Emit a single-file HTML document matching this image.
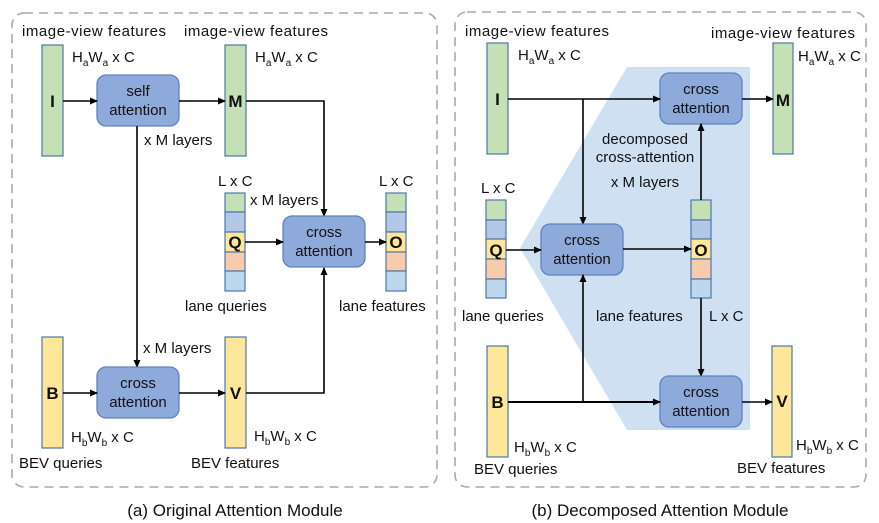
<!DOCTYPE html>
<html><head><meta charset="utf-8"><style>
html,body{margin:0;padding:0;background:#fff}
svg{display:block}
text{font-family:"Liberation Sans","DejaVu Sans",sans-serif;font-size:15px;fill:#111}
.b{font-weight:bold;font-size:17px}
.bx{fill:#8eaadb;stroke:#5f83c0;stroke-width:1.3}
.g{fill:#c5e0b4;stroke:#4a79a8;stroke-width:1.2}
.y{fill:#ffe699;stroke:#4a79a8;stroke-width:1.2}
.s1{fill:#b4c7e7;stroke:#4a79a8;stroke-width:1.2}
.s2{fill:#f8cbad;stroke:#4a79a8;stroke-width:1.2}
.s3{fill:#bdd7ee;stroke:#4a79a8;stroke-width:1.2}
.l{stroke:#000;stroke-width:1.6;fill:none}
</style></head><body>
<svg width="879" height="523" viewBox="0 0 879 523" xmlns="http://www.w3.org/2000/svg">
<defs><marker id="a" markerWidth="8" markerHeight="8" refX="7" refY="4" orient="auto" markerUnits="userSpaceOnUse"><path d="M0,0.5 L8,4 L0,7.5 Z" fill="#000"/></marker></defs>
<rect x="12" y="13" width="425" height="474" rx="12" fill="none" stroke="#aaa" stroke-width="1.6" stroke-dasharray="9,6"/>
<rect x="455" y="12" width="411" height="475" rx="12" fill="none" stroke="#aaa" stroke-width="1.6" stroke-dasharray="9,6"/>

<!-- LEFT -->
<text x="22" y="36" textLength="144">image-view features</text>
<text x="184" y="36" textLength="144">image-view features</text>
<text x="72" y="62">H<tspan font-size="10" dy="4">a</tspan><tspan dy="-4">W</tspan><tspan font-size="10" dy="4">a</tspan><tspan dy="-4"> x C</tspan></text>
<text x="255" y="62">H<tspan font-size="10" dy="4">a</tspan><tspan dy="-4">W</tspan><tspan font-size="10" dy="4">a</tspan><tspan dy="-4"> x C</tspan></text>
<rect class="g" x="42" y="45" width="21" height="111"/>
<text class="b" x="52.5" y="107" text-anchor="middle">I</text>
<rect class="g" x="225" y="45" width="21" height="111"/>
<text class="b" x="235.5" y="107" text-anchor="middle">M</text>
<rect class="bx" x="97" y="75" width="82" height="51" rx="9"/>
<text x="138" y="96" text-anchor="middle">self</text>
<text x="138" y="115" text-anchor="middle">attention</text>
<line class="l" x1="63" y1="101" x2="97" y2="101" marker-end="url(#a)"/>
<line class="l" x1="179" y1="101" x2="225" y2="101" marker-end="url(#a)"/>
<polyline class="l" points="246,101 324,101 324,216" marker-end="url(#a)"/>
<text x="144" y="145">x M layers</text>
<line class="l" x1="137" y1="126" x2="137" y2="367" marker-end="url(#a)"/>
<text x="218" y="186">L x C</text>
<text x="250" y="205">x M layers</text>
<text x="379" y="186">L x C</text>
<rect class="g" x="225" y="193" width="20" height="19"/>
<rect class="s1" x="225" y="212" width="20" height="20"/>
<rect class="y" x="225" y="232" width="20" height="20"/>
<rect class="s2" x="225" y="252" width="20" height="19"/>
<rect class="s3" x="225" y="271" width="20" height="20"/>
<text class="b" x="235" y="248" text-anchor="middle">Q</text>
<rect class="g" x="386" y="193" width="20" height="19"/>
<rect class="s1" x="386" y="212" width="20" height="20"/>
<rect class="y" x="386" y="232" width="20" height="20"/>
<rect class="s2" x="386" y="252" width="20" height="19"/>
<rect class="s3" x="386" y="271" width="20" height="20"/>
<text class="b" x="396" y="248" text-anchor="middle">O</text>
<rect class="bx" x="283" y="216" width="82" height="51" rx="9"/>
<text x="324" y="237" text-anchor="middle">cross</text>
<text x="324" y="256" text-anchor="middle">attention</text>
<line class="l" x1="245" y1="242" x2="283" y2="242" marker-end="url(#a)"/>
<line class="l" x1="365" y1="242" x2="386" y2="242" marker-end="url(#a)"/>
<text x="185" y="311">lane queries</text>
<text x="339" y="311">lane features</text>
<text x="143" y="353">x M layers</text>
<rect class="y" x="42" y="337" width="21" height="111"/>
<text class="b" x="52.5" y="399" text-anchor="middle">B</text>
<rect class="y" x="225" y="337" width="21" height="111"/>
<text class="b" x="235.5" y="399" text-anchor="middle">V</text>
<rect class="bx" x="97" y="367" width="82" height="51" rx="9"/>
<text x="138" y="388" text-anchor="middle">cross</text>
<text x="138" y="407" text-anchor="middle">attention</text>
<line class="l" x1="63" y1="393" x2="97" y2="393" marker-end="url(#a)"/>
<line class="l" x1="179" y1="393" x2="225" y2="393" marker-end="url(#a)"/>
<polyline class="l" points="246,393 324,393 324,268" marker-end="url(#a)"/>
<text x="71" y="442">H<tspan font-size="10" dy="4">b</tspan><tspan dy="-4">W</tspan><tspan font-size="10" dy="4">b</tspan><tspan dy="-4"> x C</tspan></text>
<text x="254" y="441">H<tspan font-size="10" dy="4">b</tspan><tspan dy="-4">W</tspan><tspan font-size="10" dy="4">b</tspan><tspan dy="-4"> x C</tspan></text>
<text x="19" y="468">BEV queries</text>
<text x="191" y="468">BEV features</text>
<text x="235" y="516" text-anchor="middle" style="font-size:17px">(a) Original Attention Module</text>

<!-- RIGHT -->
<polygon points="627,67 750,67 750,430 627,430 520,248" fill="#cfe0f2"/>
<text x="465" y="36" textLength="144">image-view features</text>
<text x="711" y="38" textLength="144">image-view features</text>
<text x="518" y="60">H<tspan font-size="10" dy="4">a</tspan><tspan dy="-4">W</tspan><tspan font-size="10" dy="4">a</tspan><tspan dy="-4"> x C</tspan></text>
<text x="798" y="61">H<tspan font-size="10" dy="4">a</tspan><tspan dy="-4">W</tspan><tspan font-size="10" dy="4">a</tspan><tspan dy="-4"> x C</tspan></text>
<rect class="g" x="487" y="43" width="21" height="111"/>
<text class="b" x="497.5" y="105" text-anchor="middle">I</text>
<rect class="g" x="773" y="43" width="20" height="111"/>
<text class="b" x="783" y="106" text-anchor="middle">M</text>
<rect class="bx" x="660" y="73" width="82" height="51" rx="9"/>
<text x="701" y="94" text-anchor="middle">cross</text>
<text x="701" y="113" text-anchor="middle">attention</text>
<line class="l" x1="508" y1="99" x2="660" y2="99" marker-end="url(#a)"/>
<line class="l" x1="583" y1="99" x2="583" y2="224" marker-end="url(#a)"/>
<line class="l" x1="742" y1="99" x2="773" y2="99" marker-end="url(#a)"/>
<text x="645" y="144" text-anchor="middle">decomposed</text>
<text x="645" y="162" text-anchor="middle">cross-attention</text>
<text x="645" y="187" text-anchor="middle">x M layers</text>
<text x="481" y="193">L x C</text>
<rect class="g" x="486" y="200" width="20" height="20"/>
<rect class="s1" x="486" y="220" width="20" height="19"/>
<rect class="y" x="486" y="239" width="20" height="20"/>
<rect class="s2" x="486" y="259" width="20" height="20"/>
<rect class="s3" x="486" y="279" width="20" height="19"/>
<text class="b" x="496" y="256" text-anchor="middle">Q</text>
<rect class="g" x="691" y="200" width="20" height="20"/>
<rect class="s1" x="691" y="220" width="20" height="19"/>
<rect class="y" x="691" y="239" width="20" height="20"/>
<rect class="s2" x="691" y="259" width="20" height="20"/>
<rect class="s3" x="691" y="279" width="20" height="19"/>
<text class="b" x="701" y="256" text-anchor="middle">O</text>
<rect class="bx" x="541" y="224" width="82" height="51" rx="9"/>
<text x="582" y="245" text-anchor="middle">cross</text>
<text x="582" y="264" text-anchor="middle">attention</text>
<line class="l" x1="506" y1="250" x2="541" y2="250" marker-end="url(#a)"/>
<line class="l" x1="623" y1="249" x2="691" y2="249" marker-end="url(#a)"/>
<line class="l" x1="701" y1="200" x2="701" y2="124" marker-end="url(#a)"/>
<line class="l" x1="701" y1="298" x2="701" y2="376" marker-end="url(#a)"/>
<text x="462" y="321">lane queries</text>
<text x="596" y="321">lane features</text>
<text x="709" y="321">L x C</text>
<rect class="y" x="487" y="346" width="21" height="111"/>
<text class="b" x="497.5" y="408" text-anchor="middle">B</text>
<rect class="y" x="772" y="346" width="20" height="111"/>
<text class="b" x="782" y="407" text-anchor="middle">V</text>
<rect class="bx" x="660" y="376" width="82" height="51" rx="9"/>
<text x="701" y="397" text-anchor="middle">cross</text>
<text x="701" y="416" text-anchor="middle">attention</text>
<line class="l" x1="508" y1="402" x2="660" y2="402" marker-end="url(#a)" style="stroke-width:2"/>
<line class="l" x1="583" y1="402" x2="583" y2="275" marker-end="url(#a)"/>
<line class="l" x1="742" y1="402" x2="772" y2="402" marker-end="url(#a)"/>
<text x="514" y="452">H<tspan font-size="10" dy="4">b</tspan><tspan dy="-4">W</tspan><tspan font-size="10" dy="4">b</tspan><tspan dy="-4"> x C</tspan></text>
<text x="796" y="450">H<tspan font-size="10" dy="4">b</tspan><tspan dy="-4">W</tspan><tspan font-size="10" dy="4">b</tspan><tspan dy="-4"> x C</tspan></text>
<text x="474" y="474">BEV queries</text>
<text x="737" y="473">BEV features</text>
<text x="660" y="516" text-anchor="middle" style="font-size:17px">(b) Decomposed Attention Module</text>
</svg>
</body></html>
